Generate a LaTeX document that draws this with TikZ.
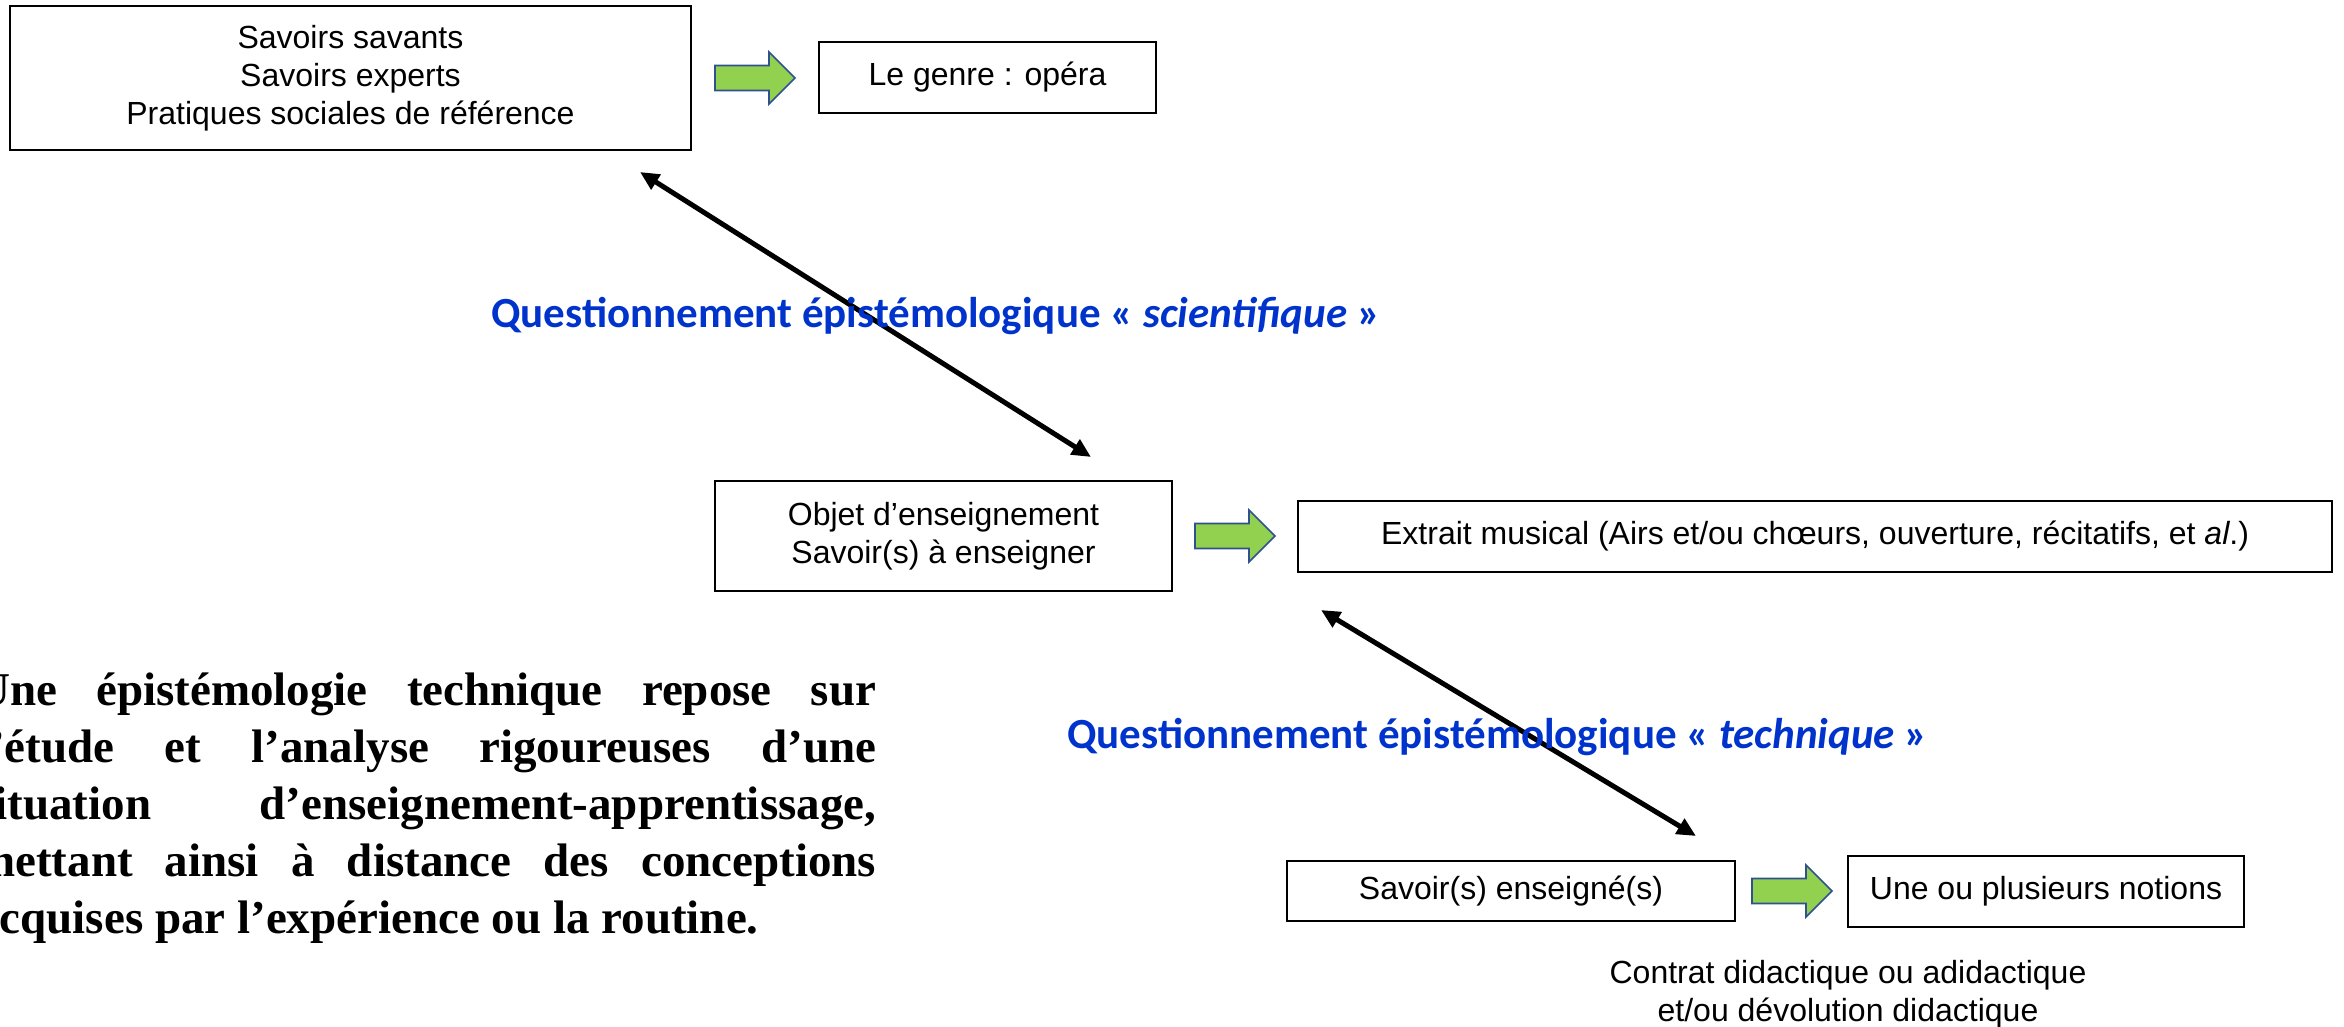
\documentclass[tikz,border=0pt]{standalone}
\usepackage{fontspec}
\setmainfont{Liberation Sans}
\newfontfamily\parafont{Liberation Serif}
\newfontfamily\questfont{Carlito}
\usepackage{tikz}
\usetikzlibrary{positioning,calc,arrows.meta}

\definecolor{vertfleche}{HTML}{92D050}
\definecolor{bordfleche}{HTML}{2F528F}
\definecolor{bleuquest}{HTML}{0033CC}

\tikzset{
    boite/.style={draw, line width=1.6pt, inner sep=0pt, align=center, font=\fontsize{32}{38}\selectfont},
    quest/.style={anchor=base west, inner sep=0pt, text=bleuquest, font=\questfont\bfseries\fontsize{43}{50}\selectfont},
    para/.style={anchor=base west, inner sep=0pt, font=\parafont\bfseries\fontsize{47}{57}\selectfont},
    lien/.style={line width=5pt, {Triangle[length=19pt,width=17pt]}-{Triangle[length=19pt,width=17pt]}},
    greenarrow/.pic={
        \filldraw[fill=vertfleche, draw=bordfleche, line width=1.6pt]
            (0,-12.5) -- (54,-12.5) -- (54,-26) -- (80,0) -- (54,26) -- (54,12.5) -- (0,12.5) -- cycle;
    }
}

\begin{document}
\begin{tikzpicture}[x=1pt, y=-1pt]
    \useasboundingbox (0,0) rectangle (2344,1027);
    \clip (0,0) rectangle (2344,1027);

    % boxes
    \node[boite, minimum width=681pt, minimum height=144pt] (savoirs) at (350.5,78)
        {Savoirs savants\\Savoirs experts\\Pratiques sociales de référence};
    \node[boite, minimum width=337pt, minimum height=71pt] (genre) at (987.5,77.5) {Le genre : opéra};
    \node[boite, minimum width=457pt, minimum height=110pt] (objet) at (943.5,536)
        {Objet d’enseignement\\Savoir(s) à enseigner};
    \node[boite, minimum width=1034pt, minimum height=71pt] (extrait) at (1815,536.5)
        {Extrait musical (Airs et/ou chœurs, ouverture, récitatifs, et \textit{al}.)};
    \node[boite, minimum width=448pt, minimum height=60pt] (enseigne) at (1511,891) {Savoir(s) enseigné(s)};
    \node[boite, minimum width=396pt, minimum height=71pt] (notions) at (2046,891.5) {Une ou plusieurs notions};

    \node[align=center, anchor=north, inner sep=0pt, font=\fontsize{32}{38}\selectfont] (contrat) at (1848,960)
        {Contrat didactique ou adidactique\\et/ou dévolution didactique};

    % green arrows
    \pic at (715,78) {greenarrow};
    \pic at (1195,536) {greenarrow};
    \pic at (1752,891) {greenarrow};

    % double arrows
    \coordinate (haut1) at (640,172);
    \coordinate (bas1) at (1091,457);
    \coordinate (haut2) at (1321,610);
    \coordinate (bas2) at (1696,836);
    \draw[lien] (haut1) -- (bas1);
    \draw[lien] (haut2) -- (bas2);

    \node[quest] (scient) at (491,327) {Questionnement épistémologique « \textit{scientifique} »};
    \node[quest] (techn) at (1067,748) {Questionnement épistémologique « \textit{technique} »};

    % paragraph
    \node[para] (p1) at (-24,705) {\makebox[900pt][s]{Une épistémologie technique repose sur}};
    \node[para] (p2) at (-24,762) {\makebox[900pt][s]{l’étude et l’analyse rigoureuses d’une}};
    \node[para] (p3) at (-24,819) {\makebox[900pt][s]{situation d’enseignement-apprentissage,}};
    \node[para] (p4) at (-24,876) {\makebox[900pt][s]{mettant ainsi à distance des conceptions}};
    \node[para] (p5) at (-24,933) {acquises par l’expérience ou la routine.};
\end{tikzpicture}
\end{document}
